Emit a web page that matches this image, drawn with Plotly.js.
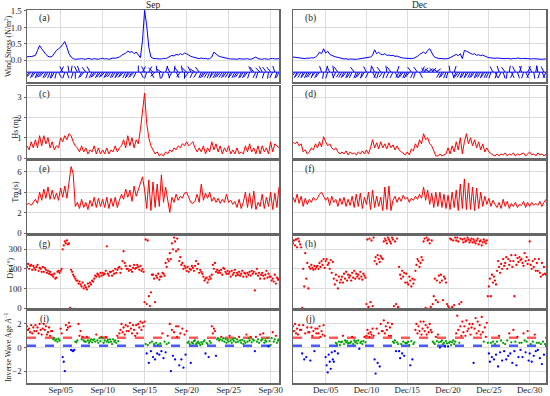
<!DOCTYPE html>
<html>
<head>
<meta charset="utf-8">
<script src="https://cdn.plot.ly/plotly-3.0.1.min.js"></script>
<style>html,body{margin:0;padding:0;background:#fff}#chart{width:550px;height:396px}</style>
</head>
<body>
<div id="chart"></div>
<script>
// ---------------- DATA ----------------
// Lines: 6-hourly samples.  Scatter (Dir, inverse wave age): 3-hourly samples.
// September (Sep 1 00:00 -> Oct 1 00:00)
const sepTau = [0.10,0.12,0.11,0.13, 0.15,0.30,0.45,0.35, 0.25,0.18,0.12,0.10, 0.12,0.22,0.30,0.35,
 0.40,0.48,0.57,0.40, 0.20,0.10,0.05,0.03, 0.04,0.03,0.05,0.04, 0.03,0.06,0.04,0.03,
 0.05,0.04,0.03,0.05, 0.06,0.04,0.05,0.03, 0.05,0.07,0.06,0.08, 0.10,0.15,0.18,0.22,
 0.28,0.24,0.27,0.20, 0.25,0.15,0.08,0.60, 1.52,1.05,0.40,0.10, 0.06,0.05,0.04,0.05,
 0.04,0.06,0.05,0.08, 0.12,0.15,0.13,0.18, 0.16,0.20,0.17,0.22, 0.20,0.15,0.12,0.10,
 0.08,0.06,0.05,0.07, 0.05,0.06,0.04,0.05, 0.10,0.25,0.18,0.14, 0.11,0.09,0.08,0.06,
 0.05,0.04,0.05,0.04, 0.03,0.05,0.04,0.03, 0.04,0.05,0.03,0.04, 0.06,0.10,0.05,0.04,
 0.03,0.05,0.04,0.03, 0.05,0.06,0.04,0.05, 0.05];
const sepWindAng = [230,235,225,240, 230,245,235,230, 225,240,235,245, 250,240,255,300,
 60,120,250,290, 100,80,250,270, 120,110,240,230, 130,250,120,240,
 235,225,240,230, 235,225,240,230, 230,240,235,245, 230,235,225,240,
 245,230,235,225, 240,90,300,60, 120,250,60,300, 140,220,100,280,
 150,250,70,290, 120,240,80,300, 130,230,100,270, 140,230,120,240,
 150,235,130,245, 240,230,235,245, 250,230,240,235, 230,235,240,230,
 235,245,230,240, 235,230,245,235, 240,230,250,120, 130,240,250,140,
 120,250,130,260, 130,240,110,250, 240];
const sepHs = [0.6,0.4,0.8,0.5, 0.9,0.5,1.1,0.6, 1.1,0.7,1.0,0.5, 0.8,0.4,0.6,0.5,
 1.0,0.8,1.1,0.9, 1.2,1.1,0.8,0.6, 0.5,0.3,0.6,0.3, 0.5,0.2,0.4,0.3,
 0.6,0.2,0.5,0.2, 0.4,0.2,0.5,0.2, 0.4,0.3,0.6,0.3, 0.5,0.6,0.9,0.5,
 1.1,0.6,1.0,0.5, 0.9,0.7,1.4,2.3, 3.2,1.7,1.0,0.6, 0.4,0.2,0.3,0.1,
 0.2,0.1,0.3,0.2, 0.4,0.3,0.5,0.4, 0.6,0.5,0.7,0.6, 0.8,0.6,0.7,0.8,
 0.5,0.3,0.5,0.3, 0.6,0.2,0.5,0.3, 0.8,0.4,0.7,0.3, 0.6,0.2,0.5,0.3,
 0.6,0.2,0.4,0.2, 0.5,0.2,0.3,0.2, 0.6,0.3,0.7,0.3, 0.5,0.2,0.6,0.2,
 0.6,0.3,0.5,0.2, 0.8,0.3,0.7,0.6, 0.5];
const sepTm = [2.8,2.9,2.7,3.0, 3.3,2.9,4.0,3.2, 4.3,3.4,4.5,3.3, 4.2,3.3,3.9,3.2,
 4.4,3.5,4.6,3.4, 5.2,6.5,5.8,2.6, 3.0,2.4,3.3,2.5, 3.0,2.3,3.2,2.6,
 3.5,2.5,3.4,2.6, 3.3,2.5,3.5,2.4, 3.4,2.6,3.5,2.5, 3.2,3.8,3.3,4.3,
 3.5,4.2,3.1,4.6, 3.6,4.3,5.0,5.5, 4.2,2.4,5.2,2.2, 5.0,2.5,4.8,2.6,
 5.7,3.0,4.5,3.2, 2.0,3.5,3.0,3.8, 3.2,3.6,3.4,3.9, 4.0,3.5,3.0,2.9,
 3.1,3.8,3.0,4.8, 3.2,3.9,3.4,4.0, 3.1,3.5,3.0,3.4, 2.9,3.3,3.0,3.8,
 3.0,3.2,2.8,3.1, 2.5,3.3,2.4,3.0, 4.0,2.5,3.9,2.4, 4.1,2.3,3.0,2.6,
 3.8,2.4,3.5,2.6, 4.0,2.3,3.9,2.5, 4.5];
const sepDir = [210,225,200,215,220,195,215,205, 195,210,220,190,205,200,185,210,
 185,205,195,180,190,175,185,170, 170,160,175,150,155,185,190,180,
 190,200,300,320,340,330,345,325, 330,0,195,185,170,160,150,140,
 140,125,135,120,110,130,100,115, 105,95,125,110,130,120,140,135,
 150,165,160,175,170,160,180,165, 180,170,175,190,315,175,165,185,
 185,165,190,175,200,180,195,205, 210,180,200,240,290,230,215,200,
 200,190,215,195,185,205,220,200, 205,220,210,195,215,190,200,185,
 30,350,20,345,60,10,80,170, 170,150,30,165,155,175,145,160,
 160,180,175,165,230,210,250,240, 280,250,330,300,360,340,290,355,
 300,240,260,220,230,200,215,205, 190,210,185,200,195,215,205,190,
 215,240,200,225,180,195,185,175, 160,140,150,155,130,145,160,150,
 170,220,200,230,185,195,180,190, 180,195,170,205,200,185,175,190,
 175,185,160,190,170,180,195,165, 180,170,185,165,175,190,160,180,
 175,160,180,170,185,165,190,175, 185,90,175,200,165,180,150,170,
 180,165,150,170,190,155,175,160, 160,140,150,135,170,125,155,145, 150];
const sepInvAge = [1.8,1.5,1.6,1.3,1.9,1.2,1.7,1.4, 1.9,1.4,1.7,1.2,2.0,1.5,1.1,1.6,
 2.0,1.5,1.8,1.1,1.3,1.7,1.0,1.4, 1.4,0.7,0.8,0.6,0.7,0.5,0.75,0.6,
 1.6,1.2,-0.8,-1.2,-2.0,1.9,1.5,1.7, 2.1,1.8,-0.2,-0.25,-0.3,-0.2,0.5,0.45,
 0.6,2.0,1.0,1.4,0.7,0.9,0.6,0.5, 0.5,0.9,0.6,0.4,0.55,0.7,0.45,0.65,
 0.7,0.5,1.1,0.6,0.4,0.8,0.55,0.9, 0.8,0.4,0.6,0.9,0.5,0.65,0.45,0.7,
 0.5,0.3,0.7,0.5,0.6,0.4,1.0,0.55, 1.2,1.5,2.0,1.3,1.7,1.1,1.9,1.4,
 1.8,1.4,2.1,1.6,1.2,1.9,1.5,1.0, 1.9,1.2,2.0,1.7,2.2,1.5,2.1,1.8,
 2.2,0.3,-0.5,0.2,-1.3,0.4,-0.3,0.5, -0.8,0.3,-1.0,0.4,-0.5,0.25,-0.6,0.35,
 -0.3,1.2,-0.9,0.5,-0.4,0.3,1.0,0.4, 2.0,-2.0,1.5,-0.7,1.3,-1.0,1.8,0.9,
 1.8,-1.5,1.2,-1.0,1.6,-1.7,1.1,-0.6, 1.4,0.4,0.5,0.3,-1.3,0.45,0.35,0.55,
 0.6,0.3,0.4,0.5,0.35,0.2,0.45,0.3, 0.5,0.6,-0.5,0.4,0.3,-0.8,0.55,0.4,
 1.8,1.2,1.6,1.4,-0.7,0.7,0.8,0.6, 0.7,0.9,0.6,0.8,0.5,0.75,0.4,0.65,
 0.5,1.0,0.6,0.4,0.7,0.55,0.8,0.45, 0.7,0.5,0.9,0.6,0.4,0.65,0.3,0.55,
 0.4,1.1,0.5,0.8,0.6,0.9,0.45,0.7, 0.6,-0.3,0.9,0.5,0.7,0.4,1.1,0.6,
 0.7,1.2,0.4,0.6,0.5,0.8,0.1,0.55, 0.2,0.8,1.3,0.5,0.7,1.0,0.4,0.6, 0.7];

// December (Dec 1 00:00 -> Jan 1 00:00)
const decTau = [0.10,0.09,0.08,0.06, 0.05,0.06,0.05,0.07, 0.06,0.08,0.07,0.10, 0.15,0.25,0.20,0.35,
 0.22,0.28,0.18,0.15, 0.12,0.10,0.09,0.07, 0.05,0.04,0.05,0.03, 0.04,0.03,0.04,0.03,
 0.04,0.05,0.04,0.05, 0.06,0.08,0.10,0.15, 0.32,0.20,0.25,0.18, 0.17,0.20,0.15,0.16,
 0.14,0.15,0.12,0.13, 0.10,0.08,0.07,0.06, 0.05,0.06,0.05,0.06, 0.08,0.12,0.18,0.22,
 0.25,0.20,0.30,0.35, 0.22,0.12,0.08,0.06, 0.05,0.06,0.04,0.05, 0.05,0.08,0.12,0.15,
 0.18,0.14,0.20,0.05, 0.30,0.28,0.25,0.22, 0.18,0.20,0.15,0.17, 0.14,0.16,0.12,0.10,
 0.08,0.07,0.08,0.06, 0.07,0.06,0.05,0.06, 0.05,0.06,0.05,0.04, 0.06,0.05,0.07,0.05,
 0.05,0.06,0.05,0.04, 0.05,0.04,0.05,0.04, 0.05,0.04,0.03,0.04, 0.04];
const decWindAng = [235,230,240,225, 235,245,230,240, 235,230,245,225, 240,230,110,260,
 70,250,120,290, 100,240,130,230, 235,240,230,245, 235,240,130,245,
 240,230,250,235, 120,240,80,300, 120,240,250,130, 230,250,100,240,
 130,240,300,70, 235,240,230,245, 240,230,130,240, 250,130,300,60,
 40,140,30,150, 40,140,30,150, 235,240,230,245, 250,100,290,70,
 240,230,235,245, 235,245,230,240, 240,230,245,235, 235,245,230,240,
 240,250,120,300, 250,110,240,290, 130,260,80,300, 240,120,290,70,
 110,250,300,60, 240,120,280,80, 100,250,300,120, 240];
const decHs = [0.8,0.7,0.8,0.6, 0.7,0.3,0.4,0.2, 0.3,0.5,0.4,0.7, 0.5,0.8,0.55,1.05,
 0.8,0.6,0.7,0.5, 0.4,0.5,0.3,0.2, 0.3,0.2,0.35,0.15, 0.3,0.2,0.25,0.15,
 0.3,0.2,0.35,0.2, 0.4,0.2,0.5,0.9, 0.5,0.75,0.45,0.8, 0.5,0.7,0.45,0.75,
 0.5,0.65,0.4,0.6, 0.4,0.3,0.2,0.15, 0.3,0.15,0.45,0.35, 0.7,0.5,0.9,0.7,
 1.2,0.9,1.0,0.7, 0.6,0.3,0.1,0.1, 0.2,0.1,0.15,0.2, 0.5,0.2,0.6,0.3,
 0.8,0.4,1.0,0.2, 0.8,1.2,0.7,1.0, 0.6,0.9,0.5,0.8, 0.4,0.7,0.3,0.5,
 0.3,0.2,0.15,0.1, 0.2,0.1,0.2,0.15, 0.25,0.1,0.2,0.15, 0.25,0.1,0.2,0.15,
 0.2,0.25,0.1,0.2, 0.3,0.15,0.2,0.1, 0.25,0.15,0.2,0.1, 0.2];
const decTm = [3.5,3.0,3.8,2.9, 3.6,2.6,3.4,2.8, 3.3,3.0,3.5,3.2, 3.4,3.8,4.0,3.6,
 3.2,3.5,2.7,3.6, 3.0,3.3,2.6,3.4, 2.8,3.5,2.6,3.3, 2.7,3.6,2.5,3.8,
 2.6,3.9,2.4,3.5, 2.8,4.0,2.3,4.2, 2.5,3.6,2.6,3.5, 2.2,4.5,2.3,4.6,
 2.2,3.2,3.6,3.0, 3.5,3.1,3.7,3.3, 3.5,3.0,3.4,3.2, 3.6,3.3,3.8,3.4,
 4.5,3.2,4.2,2.8, 3.9,2.5,4.0,2.6, 4.0,2.5,3.8,2.4, 3.7,2.3,4.0,2.5,
 4.2,2.2,4.8,2.4, 5.3,2.3,4.9,2.3, 4.5,2.2,4.4,2.4, 4.0,2.6,3.6,2.8,
 3.4,2.6,3.2,2.8, 2.5,3.0,2.4,3.3, 2.6,3.1,2.4,2.9, 2.6,3.0,2.5,2.8,
 2.7,3.1,2.5,3.0, 2.6,3.0,2.7,2.9, 2.7,3.1,2.6,3.0, 3.3];
const decDir = [330,345,320,350,310,355,340,325, 310,0,200,110,280,150,230,100,
 210,200,220,205,195,215,200,210, 215,200,230,210,240,220,250,205,
 240,250,220,230,200,245,180,235, 150,120,170,140,100,160,130,145,
 160,130,175,150,185,140,170,155, 165,140,180,155,190,150,175,160,
 170,150,185,160,145,175,165,155, 20,350,5,355,30,345,10,360,
 240,260,225,270,250,235,265,255, 250,340,355,345,330,360,350,340,
 330,360,350,10,340,20,355,5, 210,170,150,190,160,180,130,175,
 130,120,160,140,110,150,125,145, 190,220,250,240,210,230,260,245,
 340,355,0,360,345,350,330,5, 345,20,60,150,40,140,30,165,
 130,170,140,40,160,150,130,20, 10,0,355,350,5,345,15,360,
 345,360,340,20,355,30,350,335, 355,340,345,360,350,335,345,355,
 335,350,340,330,345,355,325,340, 345,320,335,350,340,330,345,60,
 110,150,60,170,130,160,140,120, 190,240,210,180,225,200,250,215,
 230,260,200,250,220,240,270,210, 240,60,270,220,255,235,260,245,
 250,230,215,280,240,260,225,245, 340,220,200,240,210,250,190,230,
 190,250,180,160,230,170,210,175, 170];
const decInvAge = [1.8,1.4,2.0,1.2,1.6,1.1,1.9,1.5, 1.5,-0.5,1.9,-1.0,1.2,-0.8,1.7,1.3,
 1.3,-1.1,1.7,1.0,1.4,-0.3,1.6,1.2, 1.6,1.2,1.8,0.9,1.4,1.1,1.9,1.0,
 -0.8,-1.5,-2.1,-0.6,-1.2,-1.8,-0.4,-1.0, -1.2,-0.3,0.4,0.3,-0.5,0.5,0.2,0.45,
 0.5,1.0,0.3,0.6,0.45,0.55,0.35,0.4, 0.4,0.5,0.9,0.3,0.6,0.45,0.55,0.35,
 0.6,-0.1,0.4,0.5,0.3,0.55,0.9,0.45, 1.0,1.5,1.2,0.9,1.3,1.1,1.6,1.0,
 -1.0,-2.2,1.6,-1.3,1.2,-1.6,2.0,1.4, 1.4,2.3,1.2,1.8,1.5,2.1,1.0,1.7,
 1.0,2.0,0.5,0.4,0.6,-0.3,0.45,0.3, -0.3,-0.9,0.3,-0.5,0.5,-0.7,0.4,0.35,
 0.4,0.5,0.2,-1.5,0.55,-1.0,0.3,0.45, 1.5,2.0,1.2,1.8,1.4,2.2,1.1,1.6,
 2.2,1.4,1.9,1.1,1.7,1.3,2.0,1.5, 1.3,0.5,0.4,0.3,0.9,0.55,1.1,0.45,
 0.0,0.5,0.6,0.3,0.4,0.1,0.55,0.35, 0.1,0.4,0.5,0.2,0.45,0.6,0.3,0.5,
 1.2,2.7,1.5,0.4,1.8,1.0,2.2,1.3, 1.8,1.0,2.3,1.4,1.6,2.0,1.1,1.7,
 2.0,-1.3,1.6,2.5,1.2,2.2,1.4,1.9, 1.1,2.6,1.3,0.5,1.7,0.9,2.1,0.4,
 -0.5,-1.2,0.4,-0.8,0.5,-1.0,0.3,-0.6, 0.5,-1.6,1.0,-0.4,0.6,-1.1,0.4,-0.3,
 0.3,-1.0,0.6,-0.7,1.2,-0.5,0.45,-1.3, 1.5,-0.3,0.5,-1.5,0.9,-0.8,0.4,-0.2,
 0.4,-0.8,1.2,0.6,-0.4,0.5,1.4,-1.1, -0.5,0.3,-1.2,0.5,-0.7,1.1,-0.3,0.4,
 -0.2,0.4,-0.9,0.3,-1.4,0.5,-0.6,0.3, 0.2];

const thresholds = [0.83, 0.15];
const colTitles = ["Sep", "Dec"];
const panelLabels = [["(a)","(b)"],["(c)","(d)"],["(e)","(f)"],["(g)","(h)"],["(i)","(j)"]];
const yTitles = ["Wind Stress (N/m<sup>2</sup>)", "Hs (m)", "Tm (s)", "Dir (°)", "Inverse Wave Age <i>A</i><sup>−1</sup>"];
const sepTickText = ["Sep/05","Sep/10","Sep/15","Sep/20","Sep/25","Sep/30"];
const decTickText = ["Dec/05","Dec/10","Dec/15","Dec/20","Dec/25","Dec/30"];

// ---------------- helpers ----------------
const HR = 3600e3, DAY = 86400e3;
function fmt(ms){ return new Date(ms).toISOString().slice(0,19).replace('T',' '); }
function times(t0, n, stepH){ return Array.from({length:n}, (_,i)=> fmt(t0 + i*stepH*HR)); }
const sepT0 = Date.UTC(2021,8,1), decT0 = Date.UTC(2021,11,1);
const sepTickVals = [5,10,15,20,25,30].map(d=>fmt(Date.UTC(2021,8,d)));
const decTickVals = [5,10,15,20,25,30].map(d=>fmt(Date.UTC(2021,11,d)));

const SERIF = "Liberation Serif, Times New Roman, serif";
const traces = [];
const cols = [
  {t0: sepT0, tau: sepTau, ang: sepWindAng, hs: sepHs, tm: sepTm, dir: sepDir, ia: sepInvAge},
  {t0: decT0, tau: decTau, ang: decWindAng, hs: decHs, tm: decTm, dir: decDir, ia: decInvAge}
];
const STICK_BASE = -0.36, STICK_H = 0.2, STICK_L = 0.7;

cols.forEach((c, ci) => {
  const ax = (r) => { const k = r*2 + ci + 1; return k === 1 ? '' : String(k); };
  const x6 = times(c.t0, c.tau.length, 6);
  const x3 = times(c.t0, c.dir.length, 3);
  // row 0: wind stress + sticks
  traces.push({x: [x6[0], x6[x6.length-1]], y:[STICK_BASE, STICK_BASE], type:'scatter', mode:'lines',
    line:{color:'#0000ff', width:1}, xaxis:'x'+ax(0), yaxis:'y'+ax(0), showlegend:false, hoverinfo:'skip'});
  const sx = [], sy = [];
  c.ang.forEach((a, i) => {
    const ms = c.t0 + i*6*HR, rad = a*Math.PI/180;
    sx.push(fmt(ms), fmt(ms + Math.cos(rad)*STICK_L*DAY), null);
    sy.push(STICK_BASE, STICK_BASE + Math.sin(rad)*STICK_H, null);
  });
  traces.push({x: sx, y: sy, type:'scatter', mode:'lines', line:{color:'#0000ff', width:1},
    xaxis:'x'+ax(0), yaxis:'y'+ax(0), showlegend:false, hoverinfo:'skip'});
  traces.push({x: x6, y: c.tau, type:'scatter', mode:'lines', line:{color:'#0000ff', width:1},
    xaxis:'x'+ax(0), yaxis:'y'+ax(0), showlegend:false, hoverinfo:'skip'});
  // row 1: Hs
  traces.push({x: x6, y: c.hs, type:'scatter', mode:'lines', line:{color:'#ff0000', width:1},
    xaxis:'x'+ax(1), yaxis:'y'+ax(1), showlegend:false, hoverinfo:'skip'});
  // row 2: Tm
  traces.push({x: x6, y: c.tm, type:'scatter', mode:'lines', line:{color:'#ff0000', width:1},
    xaxis:'x'+ax(2), yaxis:'y'+ax(2), showlegend:false, hoverinfo:'skip'});
  // row 3: Dir
  traces.push({x: x3, y: c.dir, type:'scatter', mode:'markers', marker:{color:'#ff0000', size:2.3},
    xaxis:'x'+ax(3), yaxis:'y'+ax(3), showlegend:false, hoverinfo:'skip'});
  // row 4: inverse wave age: threshold lines then points coloured by regime
  thresholds.forEach((th, k) => {
    traces.push({x: [x3[0], x3[x3.length-1]], y:[th, th], type:'scatter', mode:'lines',
      line:{color: k===0 ? '#ff5a5a' : '#4a5cff', width:2.5, dash:'dash'},
      xaxis:'x'+ax(4), yaxis:'y'+ax(4), showlegend:false, hoverinfo:'skip'});
  });
  const groups = [
    {col:'#ff0000', f: v => v >= thresholds[0]},
    {col:'#00a000', f: v => v < thresholds[0] && v >= thresholds[1]},
    {col:'#0000ff', f: v => v < thresholds[1]}
  ];
  groups.forEach(g => {
    const gx = [], gy = [];
    c.ia.forEach((v,i) => { if (g.f(v)) { gx.push(x3[i]); gy.push(v); } });
    traces.push({x: gx, y: gy, type:'scatter', mode:'markers', marker:{color:g.col, size:2.3},
      xaxis:'x'+ax(4), yaxis:'y'+ax(4), showlegend:false, hoverinfo:'skip'});
  });
});

// ---------------- layout ----------------
const W = 550, Hh = 396;
const xDom = [[27/W, 279/W], [293/W, 546/W]];
const rowPx = [[10,82],[86,158],[161,233],[236,308],[311,383]];
const yRanges = [[-0.66,1.53],[0,3.55],[0,7.05],[0,368],[-3,3.1]];
const yTicks = [[0,0.5,1,1.5],[0,1,2,3],[0,2,4,6],[0,100,200,300],[-2,0,2]];
const yTickText = [["0.0","0.5","1.0","1.5"],["0","1","2","3"],["0","2","4","6"],["0","100","200","300"],["−2","0","2"]];
const yTitleX = [8, 14.5, 14.5, 9.5, 8];
const yTitleY = [46, 128, 192, 268, 347];
const TICKSZ = 8.8;

const layout = {
  width: W, height: Hh, margin:{l:0,r:0,t:0,b:0}, paper_bgcolor:'#fff', plot_bgcolor:'#fff',
  font:{family: SERIF, size:9, color:'#222'}, showlegend:false, annotations: []
};
for (let r = 0; r < 5; r++) {
  for (let ci = 0; ci < 2; ci++) {
    const k = r*2 + ci + 1, key = k===1 ? '' : String(k);
    const xr = ci===0 ? [fmt(sepT0), fmt(Date.UTC(2021,9,1))] : [fmt(decT0), fmt(Date.UTC(2022,0,1))];
    layout['xaxis'+key] = {
      domain: xDom[ci], anchor: 'y'+key, type:'date', range: xr,
      tickmode:'array', tickvals: ci===0 ? sepTickVals : decTickVals, ticktext: ci===0 ? sepTickText : decTickText,
      showticklabels: r===4, ticklabelstandoff: -2, showgrid:true, gridcolor:'#dcdcdc', gridwidth:1,
      showline:true, mirror:true, linecolor:'#666', linewidth:1.5, zeroline:false, ticks:'',
      tickfont:{family:SERIF, size:TICKSZ, color:'#222'}, fixedrange:true
    };
    layout['yaxis'+key] = {
      domain: [1 - rowPx[r][1]/Hh, 1 - rowPx[r][0]/Hh], anchor: 'x'+key, range: yRanges[r],
      tickmode:'array', tickvals: yTicks[r], ticktext: yTickText[r],
      showticklabels: ci===0, showgrid:true, gridcolor:'#dcdcdc', gridwidth:1,
      showline:true, mirror:true, linecolor:'#666', linewidth:1.5, zeroline:false,
      ticks: ci===0 ? 'outside' : '', ticklen:2, tickcolor:'#666',
      tickfont:{family:SERIF, size:TICKSZ, color:'#222'}, fixedrange:true
    };
    layout.annotations.push({text: panelLabels[r][ci], xref:'x'+key+' domain', yref:'y'+key+' domain',
      x: 17/252, y: 1 - 8.5/72, xanchor:'center', yanchor:'middle', showarrow:false,
      font:{family:SERIF, size:9.5, color:'#222'}});
  }
  layout.annotations.push({text: yTitles[r], xref:'paper', yref:'paper', x: yTitleX[r]/W,
    y: 1 - yTitleY[r]/Hh, textangle:-90, xanchor:'center', yanchor:'middle',
    showarrow:false, font:{family:SERIF, size:7.8, color:'#222'}});
}
colTitles.forEach((t, ci) => {
  layout.annotations.push({text: t, xref:'paper', yref:'paper', x:(xDom[ci][0]+xDom[ci][1])/2, y: 1 - 5/Hh,
    xanchor:'center', yanchor:'middle', showarrow:false, font:{family:SERIF, size:9.5, color:'#222'}});
});

Plotly.newPlot('chart', traces, layout, {staticPlot:true, displayModeBar:false});
</script>
</body>
</html>
